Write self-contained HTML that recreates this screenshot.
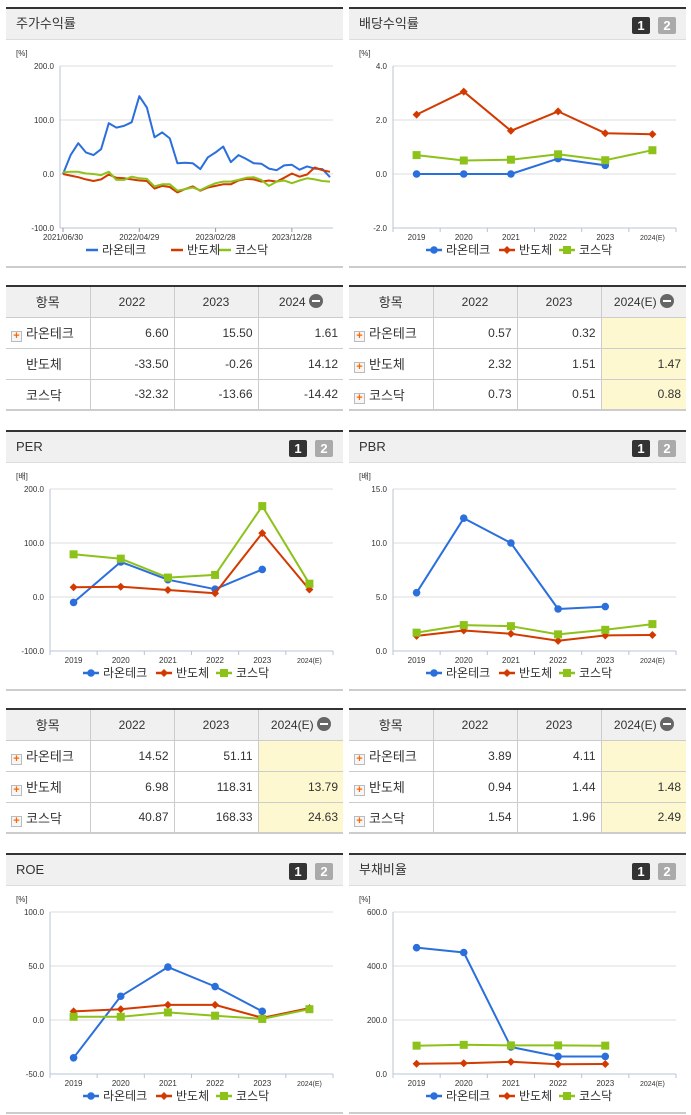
<!DOCTYPE html>
<html><head><meta charset="utf-8">
<style>
*{margin:0;padding:0;box-sizing:border-box}
body{width:691px;height:1115px;background:#fff;font-family:"Liberation Sans","Noto Sans CJK KR",sans-serif;position:relative;overflow:hidden;color:#333}
.panel{position:absolute;width:337px;height:261px;border-top:2px solid #333}
.hdr{height:31px;background:#f0f0f0;border-bottom:1px solid #ddd;font-size:13px;line-height:30px;padding-left:10px;color:#333}
.btn{position:absolute;top:8px;width:18px;height:17px;font:bold 13px "Liberation Sans",sans-serif;color:#fff;text-align:center;line-height:17px;border-radius:2px}
.b1{right:36px;background:#333}.b2{right:10px;background:#aaa}
.panel svg{position:absolute;left:0;top:31px}
.bot{position:absolute;left:0;bottom:0;width:100%;height:2px;background:#ccc}
table{position:absolute;width:337px;border-collapse:collapse;border-top:2px solid #333;border-bottom:2px solid #ccc;font-size:12px}
td,th{height:31px;border-left:1px solid #ccc;border-bottom:1px solid #ccc;text-align:right;padding-right:5px;font-weight:normal;color:#333}
th{background:#f0f0f0;text-align:center;padding:0}
td:first-child,th:first-child{border-left:none;text-align:left;padding-left:5px;font-size:13px}
th:first-child{text-align:center;padding:0}
.y{background:#fdf8cf}
.pl{display:inline-block;width:11px;height:11px;border:1px solid #bbb;background:#f6f6f6;color:#f60;font:bold 11px/9px "Liberation Sans",sans-serif;text-align:center;vertical-align:-1px;margin-right:4px}
.sp{display:inline-block;width:15px}
.mi{display:inline-block;width:14px;height:14px;border-radius:7px;background:#666;vertical-align:-2px;margin-left:3px;position:relative}
.mi:after{content:"";position:absolute;left:3px;top:6px;width:8px;height:2px;background:#fff}
</style></head><body>

<div class="panel" style="left:6px;top:7px"><div class="hdr">주가수익률</div><svg id="c0" width="337" height="228"></svg><div class="bot"></div></div>
<div class="panel" style="left:349px;top:7px"><div class="hdr">배당수익률</div><div class="btn b1">1</div><div class="btn b2">2</div><svg id="c1" width="337" height="228"></svg><div class="bot"></div></div>

<table style="left:6px;top:285px">
<tr><th style="width:84px">항목</th><th style="width:84px">2022</th><th style="width:84px">2023</th><th>2024<span class="mi"></span></th></tr>
<tr><td><span class="pl">+</span>라온테크</td><td>6.60</td><td>15.50</td><td>1.61</td></tr>
<tr><td><span class="sp"></span>반도체</td><td>-33.50</td><td>-0.26</td><td>14.12</td></tr>
<tr><td><span class="sp"></span>코스닥</td><td>-32.32</td><td>-13.66</td><td>-14.42</td></tr>
</table>
<table style="left:349px;top:285px">
<tr><th style="width:84px">항목</th><th style="width:84px">2022</th><th style="width:84px">2023</th><th>2024(E)<span class="mi"></span></th></tr>
<tr><td><span class="pl">+</span>라온테크</td><td>0.57</td><td>0.32</td><td class="y"></td></tr>
<tr><td><span class="pl">+</span>반도체</td><td>2.32</td><td>1.51</td><td class="y">1.47</td></tr>
<tr><td><span class="pl">+</span>코스닥</td><td>0.73</td><td>0.51</td><td class="y">0.88</td></tr>
</table>

<div class="panel" style="left:6px;top:430px"><div class="hdr">PER</div><div class="btn b1">1</div><div class="btn b2">2</div><svg id="c2" width="337" height="228"></svg><div class="bot"></div></div>
<div class="panel" style="left:349px;top:430px"><div class="hdr">PBR</div><div class="btn b1">1</div><div class="btn b2">2</div><svg id="c3" width="337" height="228"></svg><div class="bot"></div></div>

<table style="left:6px;top:708px">
<tr><th style="width:84px">항목</th><th style="width:84px">2022</th><th style="width:84px">2023</th><th>2024(E)<span class="mi"></span></th></tr>
<tr><td><span class="pl">+</span>라온테크</td><td>14.52</td><td>51.11</td><td class="y"></td></tr>
<tr><td><span class="pl">+</span>반도체</td><td>6.98</td><td>118.31</td><td class="y">13.79</td></tr>
<tr><td><span class="pl">+</span>코스닥</td><td>40.87</td><td>168.33</td><td class="y">24.63</td></tr>
</table>
<table style="left:349px;top:708px">
<tr><th style="width:84px">항목</th><th style="width:84px">2022</th><th style="width:84px">2023</th><th>2024(E)<span class="mi"></span></th></tr>
<tr><td><span class="pl">+</span>라온테크</td><td>3.89</td><td>4.11</td><td class="y"></td></tr>
<tr><td><span class="pl">+</span>반도체</td><td>0.94</td><td>1.44</td><td class="y">1.48</td></tr>
<tr><td><span class="pl">+</span>코스닥</td><td>1.54</td><td>1.96</td><td class="y">2.49</td></tr>
</table>

<div class="panel" style="left:6px;top:853px"><div class="hdr">ROE</div><div class="btn b1">1</div><div class="btn b2">2</div><svg id="c4" width="337" height="228"></svg><div class="bot"></div></div>
<div class="panel" style="left:349px;top:853px"><div class="hdr">부채비율</div><div class="btn b1">1</div><div class="btn b2">2</div><svg id="c5" width="337" height="228"></svg><div class="bot"></div></div>

<script>
const seriesNames=["라온테크","반도체","코스닥"];
const years=["2019","2020","2021","2022","2023","2024(E)"];
const stockDateLabels=["2021/06/30","2022/04/29","2023/02/28","2023/12/28"];
const stockDateIdx=[0,10,20,30];
const stockRaon=[0,35,57,40,35,46,94,86,89,96,144,123,68,77,66,20,21,20,9,31,40,51,22,35,28,20,19,10,7,16,17,8,14,10,9,-6];
const stockSemi=[0,-3,-6,-10,-13,-10,-1,-7,-8,-10,-12,-13,-27,-22,-24,-34,-28,-23,-31,-25,-22,-19,-19,-12,-9,-10,-14,-12,-14,-7,1,-5,-1,12,7,4];
const stockKosdaq=[3,4,4,1,0,-2,4,-11,-11,-5,-8,-9,-23,-19,-19,-31,-28,-25,-30,-23,-17,-14,-14,-11,-7,-6,-11,-22,-14,-12,-17,-12,-8,-10,-13,-14];
const stockTicks=[200,100,0,-100];
const divRaon=[0,0,0,0.57,0.32,null];
const divSemi=[2.2,3.05,1.6,2.32,1.51,1.47];
const divKosdaq=[0.7,0.5,0.53,0.73,0.51,0.88];
const divTicks=[4,2,0,-2];
const perRaon=[-10,65,32,14.52,51.11,null];
const perSemi=[18,19,13,6.98,118.31,13.79];
const perKosdaq=[79,71,36,40.87,168.33,24.63];
const perTicks=[200,100,0,-100];
const pbrRaon=[5.4,12.3,10.0,3.89,4.11,null];
const pbrSemi=[1.4,1.9,1.6,0.94,1.44,1.48];
const pbrKosdaq=[1.7,2.4,2.3,1.54,1.96,2.49];
const pbrTicks=[15,10,5,0];
const roeRaon=[-35,22,49,31,8,null];
const roeSemi=[8,10,14,14,2,11];
const roeKosdaq=[3,3,7,4,1,10];
const roeTicks=[100,50,0,-50];
const debtRaon=[468,450,100,65,65,null];
const debtSemi=[38,40,45,36,37,null];
const debtKosdaq=[105,108,106,106,105,null];
const debtTicks=[600,400,200,0];
const colors=["#2a6fdb","#d23a00","#8cc21a"];
const NS="http://www.w3.org/2000/svg";
function mk(svg,tag,attrs){const e=document.createElementNS(NS,tag);for(const k in attrs)e.setAttribute(k,attrs[k]);svg.appendChild(e);return e;}
function marker(svg,s,x,y){let e;
 if(s===0)e=mk(svg,"circle",{cx:x,cy:y,r:3.8,fill:colors[0]});
 else if(s===1)e=mk(svg,"path",{d:`M${x} ${y-4}L${x+4} ${y}L${x} ${y+4}L${x-4} ${y}Z`,fill:colors[1]});
 else e=mk(svg,"rect",{x:x-4,y:y-4,width:8,height:8,fill:colors[2]});
 return e;}
function drawChart(id,unit,ticks,series,opts){
 const svg=document.getElementById(id);
 const top=26,bot=188,x0=opts.x0,x1=327;
 const mx=ticks[0],mn=ticks[ticks.length-1];
 const Y=v=>top+(mx-v)/(mx-mn)*(bot-top);
 const u=mk(svg,"text",{x:10,y:16,"font-size":8,fill:"#333"});u.textContent=unit;
 
 
 ticks.forEach(t=>{const y=Y(t);
  if(t!==mn){const g=mk(svg,"line",{x1:x0,x2:x1,y1:y,y2:y,stroke:"#ddd"});}
  const tx=mk(svg,"text",{x:x0-6,y:y+3,"font-size":8,"text-anchor":"end",fill:"#333"});tx.textContent=t.toFixed(1);
  
  
 });
 mk(svg,"line",{x1:x0,x2:x1,y1:bot,y2:bot,stroke:"#b8c4d4"});
 mk(svg,"line",{x1:x0,x2:x0,y1:top,y2:bot,stroke:"#b8c4d4"});
 let X;
 if(opts.cats){const n=opts.cats.length,bw=(x1-x0)/n;X=i=>x0+bw*(i+0.5);
  for(let i=0;i<=n;i++)mk(svg,"line",{x1:x0+bw*i,x2:x0+bw*i,y1:bot,y2:bot+4,stroke:"#b8c4d4"});
  opts.cats.forEach((c,i)=>{const t=mk(svg,"text",{x:X(i),y:bot+12,"font-size":c.length>4?7:8,"text-anchor":"middle",fill:"#333"});t.textContent=c;
   
   });
 } else {const n=series[0].length;X=i=>x0+3+i*(x1-3-(x0+3))/(n-1);
  opts.dateIdx.forEach((di,k)=>{mk(svg,"line",{x1:X(di),x2:X(di),y1:bot,y2:bot+4,stroke:"#999"});
   const t=mk(svg,"text",{x:X(di),y:bot+12,"font-size":8,"text-anchor":"middle",fill:"#333"});t.textContent=opts.dates[k];
   
   });
 }
 series.forEach((arr,s)=>{let d="";arr.forEach((v,i)=>{if(v===null)return;d+=(d?"L":"M")+X(i).toFixed(1)+" "+Y(v).toFixed(1);});
  const p=mk(svg,"path",{d:d,fill:"none",stroke:colors[s],"stroke-width":2,"stroke-linejoin":"round"});
  
  
  if(opts.cats)arr.forEach((v,i)=>{if(v===null)return;const m=marker(svg,s,X(i),Y(v));
   
   });
 });
 const lx=opts.cats?[85,158,218]:[86,171,219];
 const hw=opts.cats?8:6;
 seriesNames.forEach((nm,s)=>{const cx=lx[s];
  mk(svg,"line",{x1:cx-hw,x2:cx+hw,y1:210,y2:210,stroke:colors[s],"stroke-width":2.5});
  if(opts.cats)marker(svg,s,cx,210);
  const t=mk(svg,"text",{x:cx+hw+4,y:214,"font-size":12,fill:"#333"});t.textContent=nm;
  
  
 });
}
drawChart("c0","[%]",stockTicks,[stockRaon,stockSemi,stockKosdaq],{x0:54,dates:stockDateLabels,dateIdx:stockDateIdx});
drawChart("c1","[%]",divTicks,[divRaon,divSemi,divKosdaq],{x0:44,cats:years});
drawChart("c2","[배]",perTicks,[perRaon,perSemi,perKosdaq],{x0:44,cats:years});
drawChart("c3","[배]",pbrTicks,[pbrRaon,pbrSemi,pbrKosdaq],{x0:44,cats:years});
drawChart("c4","[%]",roeTicks,[roeRaon,roeSemi,roeKosdaq],{x0:44,cats:years});
drawChart("c5","[%]",debtTicks,[debtRaon,debtSemi,debtKosdaq],{x0:44,cats:years});
</script>
</body></html>
